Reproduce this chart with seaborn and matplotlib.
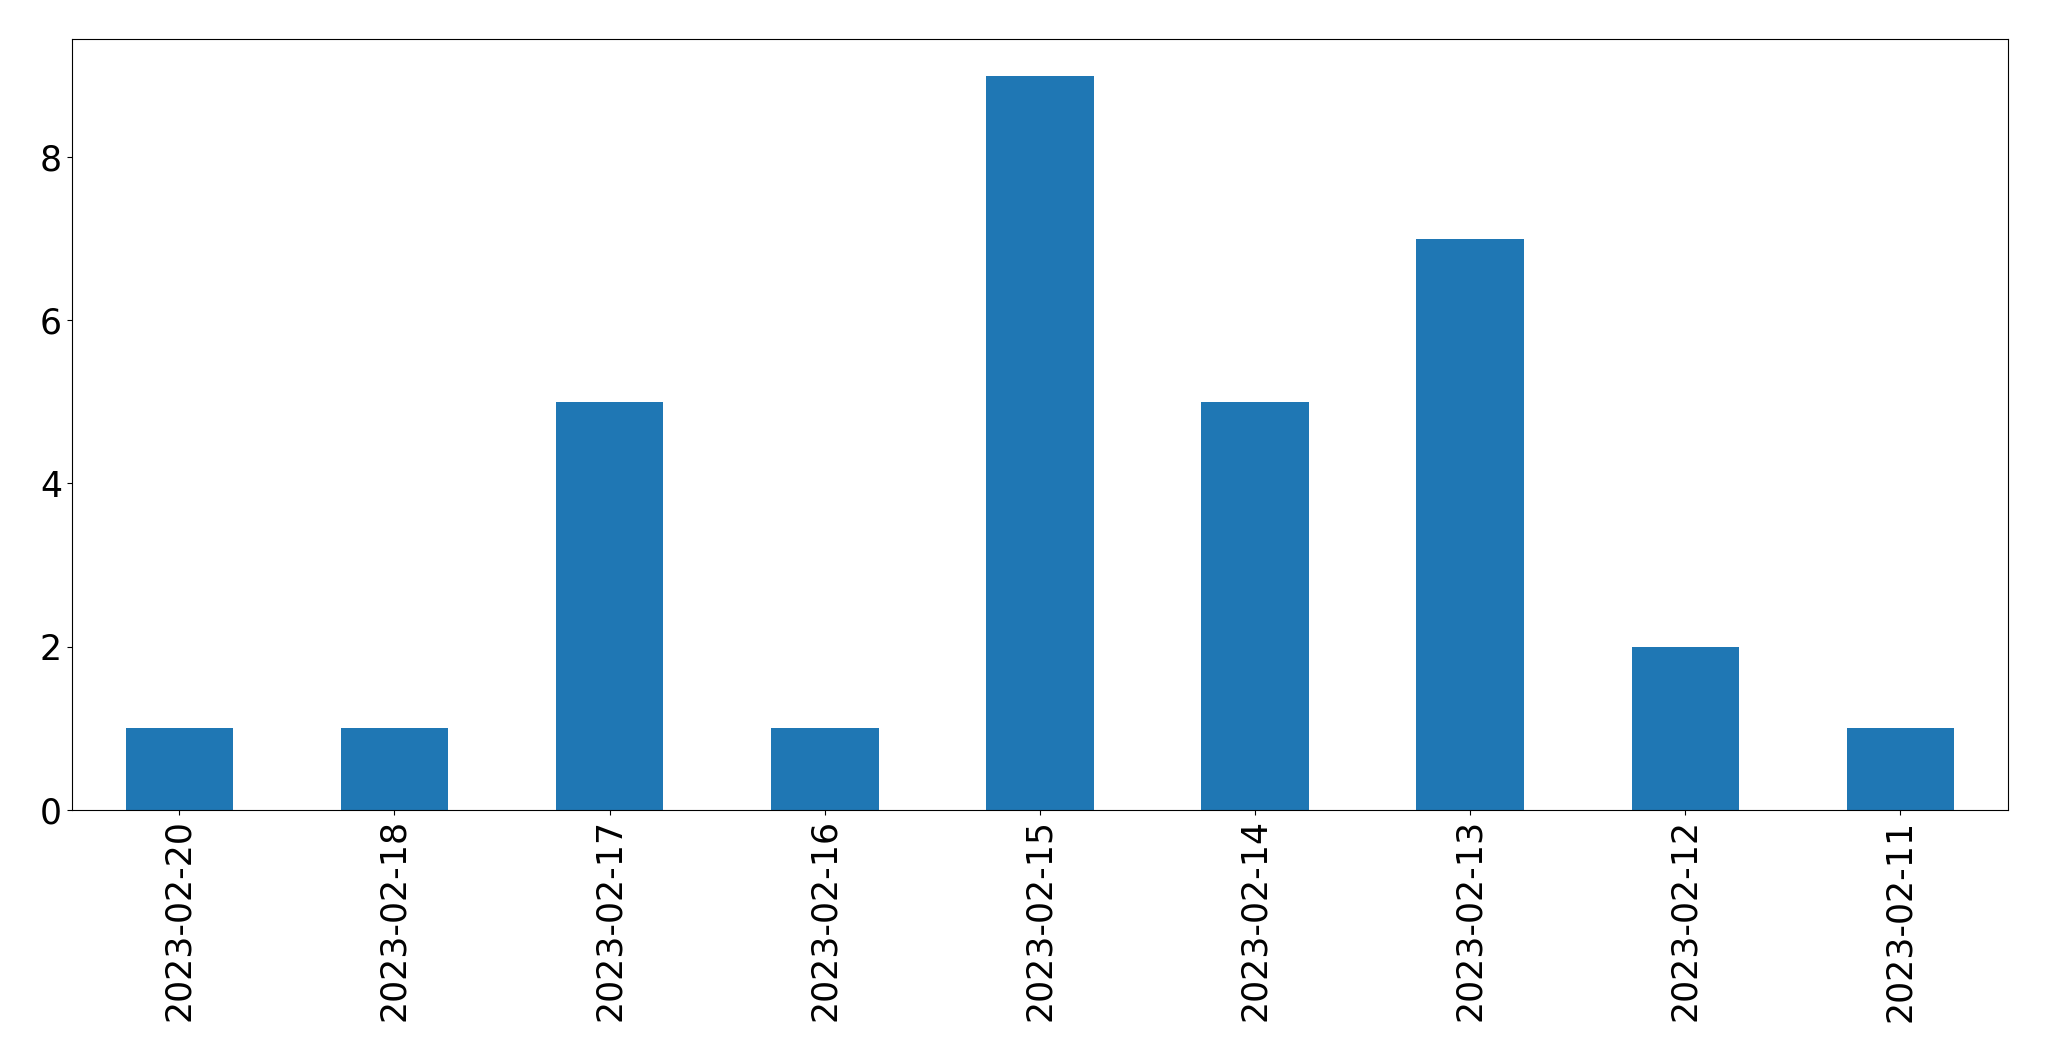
import matplotlib
matplotlib.use("Agg")
import matplotlib.pyplot as plt
import seaborn as sns
import pandas as pd

dates = ["2023-02-20", "2023-02-18", "2023-02-17", "2023-02-16", "2023-02-15",
         "2023-02-14", "2023-02-13", "2023-02-12", "2023-02-11"]
counts = [1, 1, 5, 1, 9, 5, 7, 2, 1]

df = pd.DataFrame({"date": dates, "count": counts})

fig = plt.figure(figsize=(20.49, 10.61), dpi=100)
ax = fig.add_axes([0.035, 0.237, 0.945, 0.726])
sns.barplot(data=df, x="date", y="count", order=dates, color="#1f77b4",
            saturation=1, width=0.5, ax=ax)
ax.set_xlim(-0.5, len(dates) - 0.5)
ax.set_ylim(0, 9.45)
ax.set_yticks([0, 2, 4, 6, 8])
ax.set_xlabel("")
ax.set_ylabel("")
ax.tick_params(axis="both", labelsize=25)
for lbl in ax.get_xticklabels():
    lbl.set_rotation(90)
for s in ax.spines.values():
    s.set_visible(True)
fig.savefig("out.png", dpi=100)
